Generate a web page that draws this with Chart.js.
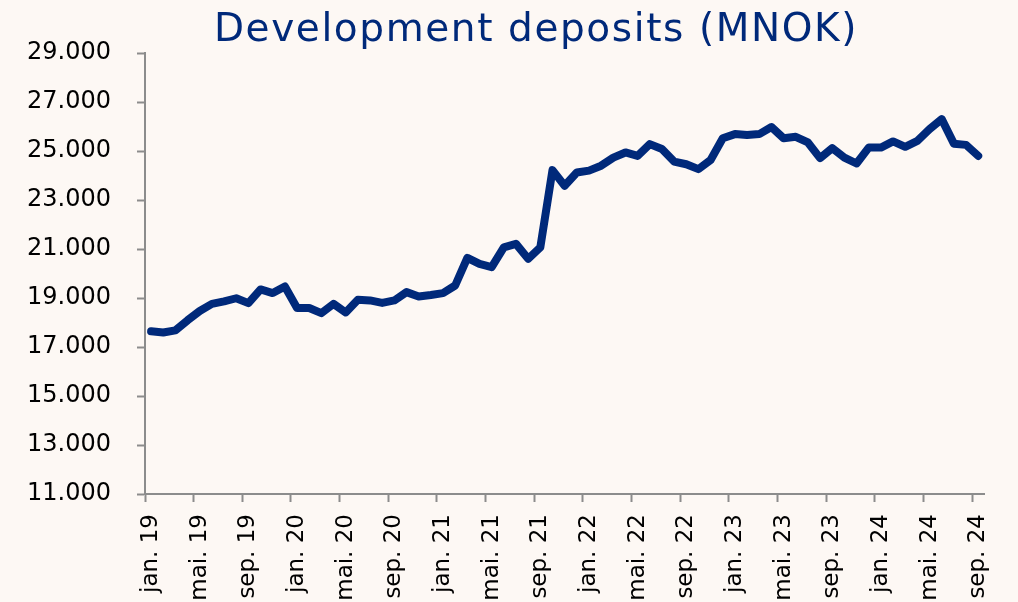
<!DOCTYPE html>
<html>
<head>
<meta charset="utf-8">
<script src="https://cdn.jsdelivr.net/npm/chart.js@4/dist/chart.umd.min.js"></script>
<style>
  html, body { margin: 0; padding: 0; background: #fdf8f4; }
</style>
</head>
<body>
<canvas id="graficaInnskudd" width="1018" height="602"></canvas>
<script>
// data lest av bildet (MNOK), månedlig jan. 19 - sep. 24
const maaneder = ['jan.', 'feb.', 'mar.', 'apr.', 'mai.', 'jun.', 'jul.', 'aug.', 'sep.', 'okt.', 'nov.', 'des.'];
const aar = ['19', '20', '21', '22', '23', '24'];

const innskudd2019 = [17640, 17590, 17680, 18090, 18470, 18760, 18860, 18990, 18790, 19350, 19200, 19470];
const innskudd2020 = [18590, 18590, 18380, 18760, 18410, 18930, 18900, 18800, 18900, 19240, 19060, 19120];
const innskudd2021 = [19200, 19510, 20640, 20390, 20260, 21070, 21210, 20600, 21070, 24220, 23580, 24120];
const innskudd2022 = [24200, 24400, 24730, 24940, 24800, 25280, 25080, 24570, 24460, 24260, 24630, 25520];
const innskudd2023 = [25690, 25650, 25690, 25980, 25520, 25580, 25350, 24710, 25120, 24730, 24490, 25140];
const innskudd2024 = [25140, 25390, 25170, 25410, 25890, 26300, 25300, 25250, 24800];

const yTicks = [11000, 13000, 15000, 17000, 19000, 21000, 23000, 25000, 27000, 29000];
const tittel = 'Development deposits (MNOK)';

const innskudd = [].concat(innskudd2019, innskudd2020, innskudd2021, innskudd2022, innskudd2023, innskudd2024);
const kategorier = [];
for (var i in innskudd) {
    kategorier.push(maaneder[i % 12] + ' ' + aar[Math.floor(i / 12)]);
}

const bla = '#00297a';
const gra = '#8c8c8c';

function tusen(v) {
    return String(v).replace(/\B(?=(\d{3})+(?!\d))/g, '.');
}

// tittelen står litt til venstre for midten av plottet, så den tegnes selv
const tittelPlugin = {
    id: 'tittel',
    afterDraw(chart) {
        const ctx = chart.ctx;
        ctx.save();
        ctx.font = '39px "DejaVu Sans"';
        ctx.letterSpacing = '1.6px';
        ctx.fillStyle = bla;
        ctx.textAlign = 'center';
        ctx.textBaseline = 'alphabetic';
        ctx.fillText(tittel, 536, 41);
        ctx.restore();
    }
};

const $Lienzo = document.getElementById('graficaInnskudd');

new Chart($Lienzo, {
    type: 'line',
    data: {
        labels: kategorier,
        datasets: [{
            data: innskudd,
            borderColor: bla,
            borderWidth: 8,
            pointRadius: 0,
            tension: 0,
            fill: false,
            borderJoinStyle: 'round',
            borderCapStyle: 'round',
        }]
    },
    plugins: [tittelPlugin],
    options: {
        responsive: false,
        animation: false,
        layout: { padding: { left: 0, right: 27, top: 53, bottom: 0 } },
        plugins: {
            legend: { display: false },
            tooltip: { enabled: false },
            title: { display: false },
        },
        scales: {
            x: {
                offset: true,
                grid: {
                    offset: true,
                    drawOnChartArea: false,
                    tickLength: 8,
                    tickWidth: 2,
                    tickColor: (ctx) => (ctx.index % 4 === 0 ? gra : 'transparent'),
                },
                border: { color: gra, width: 2 },
                ticks: {
                    autoSkip: false,
                    minRotation: 90,
                    maxRotation: 90,
                    padding: 12,
                    color: '#000',
                    font: { family: 'DejaVu Sans', size: 23 },
                    callback: (v, i) => (i % 4 === 0 ? kategorier[i] : ''),
                },
                afterFit: (s) => { s.height = 108; },
            },
            y: {
                min: yTicks[0],
                max: yTicks[yTicks.length - 1],
                afterBuildTicks: (s) => { s.ticks = yTicks.map(v => ({ value: v })); },
                grid: {
                    drawOnChartArea: false,
                    tickLength: 8,
                    tickWidth: 2,
                    tickColor: gra,
                },
                border: { color: gra, width: 2 },
                ticks: {
                    padding: 26,
                    color: '#000',
                    font: { family: 'DejaVu Sans', size: 24 },
                    callback: (v) => tusen(v),
                },
                afterFit: (s) => { s.width = 145; },
            },
        },
    }
});
</script>
</body>
</html>
